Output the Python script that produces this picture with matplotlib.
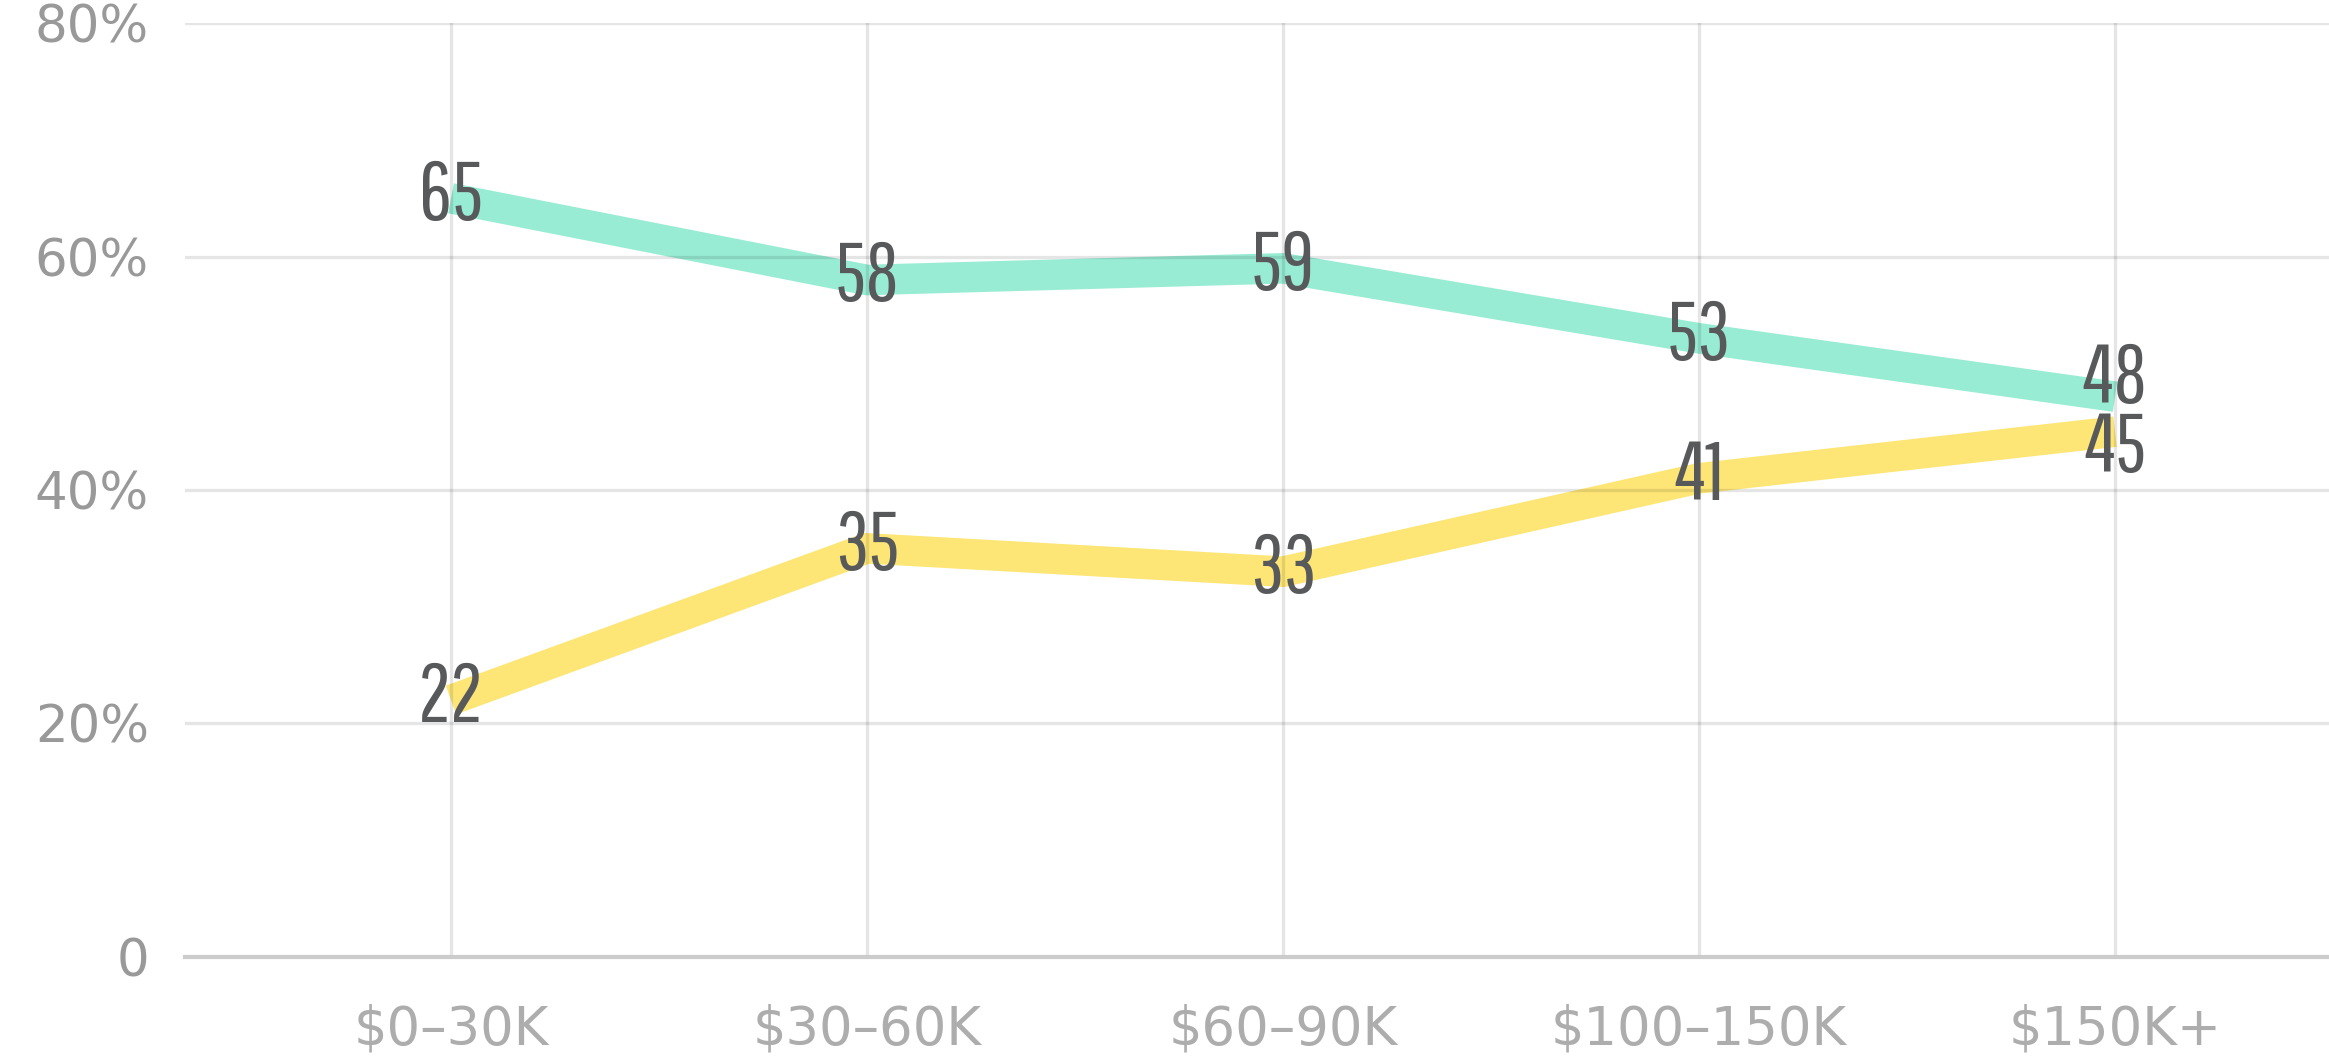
import matplotlib
matplotlib.use('Agg')
import matplotlib.pyplot as plt

# data
categories = ['$0–30K', '$30–60K', '$60–90K', '$100–150K', '$150K+']
teal_vals = [65, 58, 59, 53, 48]
yellow_vals = [22, 35, 33, 41, 45]
y_ticks = [0, 20, 40, 60, 80]
y_tick_labels = ['0', '20%', '40%', '60%', '80%']

TEAL = '#98ECD3'
YELLOW = '#FDE675'
LABEL_COLOR = '#58595B'
LABEL_FONT = ['Pathway Gothic One', 'Barlow Condensed', 'DejaVu Sans']
TICK_FONT = ['DejaVu Sans']
PX = 0.72  # points per pixel at dpi 100

fig = plt.figure(figsize=(23.29, 10.57), dpi=100)
ax = fig.add_axes([185 / 2329, (1057 - 956.7) / 1057, 1 - 185 / 2329, (956.7 - 23.3) / 1057])

x = list(range(len(categories)))
for vals, other, col in [(teal_vals, yellow_vals, TEAL), (yellow_vals, teal_vals, YELLOW)]:
    ax.plot(x, vals, color=col, linewidth=22, solid_capstyle='butt',
            solid_joinstyle='miter', zorder=2)
    for xi, v, o in zip(x, vals, other):
        # label centre sits a little above the point; split apart when the two series are close
        centre = 7
        if abs(v - o) < 6:
            centre = 22 if v > o else -12
        ax.annotate(str(v), (xi, v), xytext=(0, (centre - 28.5) * PX), textcoords='offset points',
                    ha='center', va='baseline', fontsize=59, color=LABEL_COLOR,
                    family=LABEL_FONT, zorder=4)

ax.set_xlim((185 - 451) / 416, (2329 - 451) / 416)
ax.set_ylim(0, 80)
ax.set_xticks(x)
ax.set_xticklabels(categories)
ax.set_yticks(y_ticks)
ax.set_yticklabels(y_tick_labels)

ax.set_axisbelow(False)
ax.grid(True, color='black', alpha=0.1, linewidth=2.4, zorder=2.5)

for side in ['top', 'right', 'left']:
    ax.spines[side].set_visible(False)
ax.spines['bottom'].set_color('#cccccc')
ax.spines['bottom'].set_linewidth(3)
ax.spines['bottom'].set_zorder(2.6)

ax.tick_params(axis='both', length=0)
ax.tick_params(axis='y', pad=26, labelsize=37, labelcolor='#999999')
ax.tick_params(axis='x', pad=34, labelsize=38, labelcolor='#adadad')
for lab in ax.get_xticklabels() + ax.get_yticklabels():
    lab.set_family(TICK_FONT)

fig.savefig('out.png', dpi=100)
